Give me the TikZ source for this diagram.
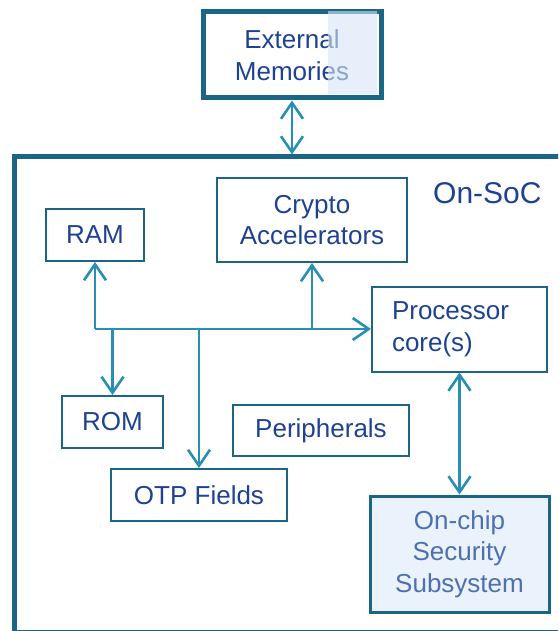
\documentclass[tikz,border=0pt]{standalone}
\usepackage{fontspec}
\setmainfont{Liberation Sans}
\usetikzlibrary{arrows.meta}

\definecolor{frame}{RGB}{27,102,132}
\definecolor{link}{RGB}{40,142,180}
\definecolor{ink}{RGB}{30,66,146}
\definecolor{softink}{RGB}{78,112,176}
\definecolor{paleblue}{RGB}{234,242,251}
\definecolor{haze}{RGB}{214,229,246}

\tikzset{
  block/.style={draw=frame, line width=2pt, inner sep=0pt, align=center,
    text=ink, font=\fontsize{26}{31.5}\selectfont},
  barb/.tip={Straight Barb[length=16pt,width=22pt,line width=2.6pt]},
  link/.style={draw=link, line width=2.6pt, arrows={-barb}},
  duplex/.style={link, arrows={barb-barb}}
}

\begin{document}
\begin{tikzpicture}[x=1pt,y=-1pt]
\useasboundingbox (0,0) rectangle (558,631);
\clip (0,0) rectangle (558,631);

% chip outline (runs off the right and bottom edges)
\node[draw=frame, line width=5pt, minimum width=605pt, minimum height=475pt, inner sep=0pt]
  (soc) at (317,394.5) {};
\node[anchor=base west, text=ink, font=\fontsize{30}{36}\selectfont, inner sep=0pt]
  (soclabel) at (433,203) {On-SoC};

% external memory block with its translucent highlight
\node[block, line width=5pt, minimum width=178pt, minimum height=86pt] (ext) at (292,55)
  {External\\Memories};
\fill[haze, opacity=0.6] (328,11) rectangle (377,94);

% on-chip blocks
\node[block, minimum width=98pt, minimum height=52pt] (ram) at (95,235) {RAM};
\node[block, minimum width=190pt, minimum height=84pt] (crypto) at (312,220)
  {Crypto\\Accelerators};
\node[block, align=left, text width=135pt, inner xsep=20pt, minimum height=85pt]
  (proc) at (459.5,329) {Processor\\core(s)};
\node[block, minimum width=101pt, minimum height=52pt] (rom) at (112.5,422) {ROM};
\node[block, minimum width=176pt, minimum height=51pt] (peri) at (321,430.5) {Peripherals};
\node[block, minimum width=176pt, minimum height=52pt] (otp) at (199,495) {OTP Fields};
\node[block, line width=3pt, fill=paleblue, text=softink, minimum width=179pt,
  minimum height=116pt] (sec) at (459.5,554) {On-chip\\Security\\Subsystem};

% shared bus
\coordinate (busL) at (95,329);
\coordinate (busROM) at (rom.north |- busL);
\coordinate (busOTP) at (otp.north |- busL);
\coordinate (busCrypto) at (crypto.south |- busL);

\draw[link] (busL) -- (ram.south);
\draw[link] (busL) -- (proc.west);
\draw[link] (busROM) -- (rom.north);
\draw[link] (busOTP) -- (otp.north);
\draw[link] (busCrypto) -- (crypto.south);

% off-chip and security links
\coordinate (socTop) at (ext.south |- soc.north);
\draw[duplex] (ext.south) -- (socTop);
\draw[duplex] (proc.south) -- (sec.north);
\end{tikzpicture}
\end{document}
